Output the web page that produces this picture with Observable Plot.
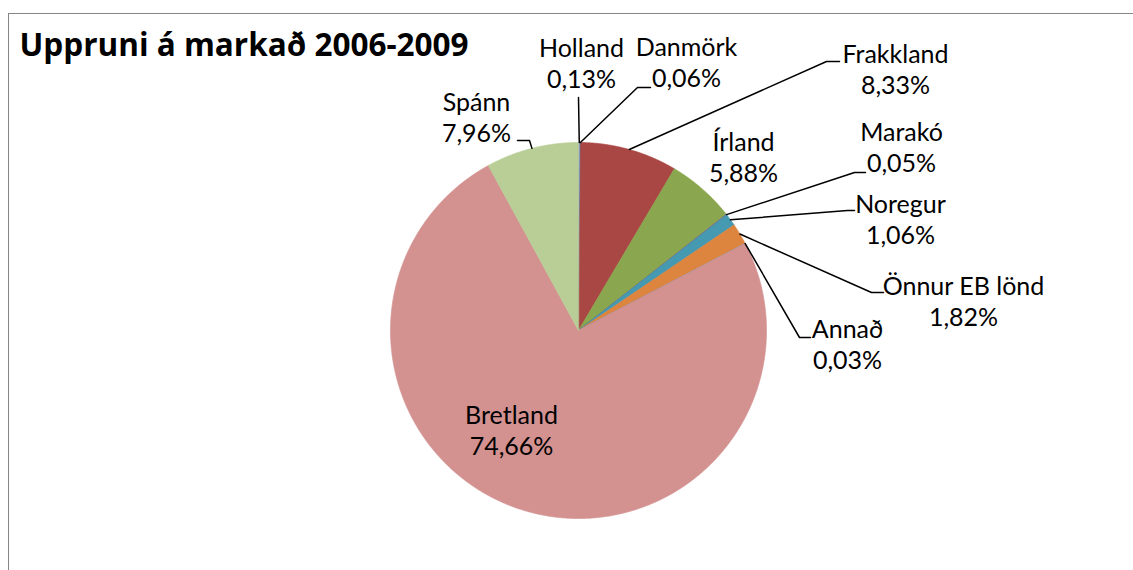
<!DOCTYPE html>
<html><head><meta charset="utf-8">
<script src="https://cdn.jsdelivr.net/npm/d3@7"></script>
<script src="https://cdn.jsdelivr.net/npm/@observablehq/plot@0.6"></script>
<style>
html,body{margin:0;padding:0;background:#fff;overflow:hidden;}
#wrap{position:relative;width:1133px;height:570px;}
#frame{position:absolute;left:8px;top:13px;width:1200px;height:600px;border-left:1.5px solid #868686;border-top:1.5px solid #868686;box-sizing:border-box;pointer-events:none;}
#chart{position:absolute;left:0;top:0;}
</style></head><body>
<div id="wrap"><div id="chart"></div><div id="frame"></div></div>
<script>
// ---- data ----
const title = "Uppruni á markað 2006-2009";
const countries = ["Holland","Danmörk","Frakkland","Írland","Marakó","Noregur","Önnur EB lönd","Annað","Bretland","Spánn"];
const shares = [0.13, 0.06, 8.33, 5.88, 0.05, 1.06, 1.82, 0.03, 74.66, 7.96];
const colors = ["#9896c6","#4573a7","#a94745","#8aa64e","#71588f","#4599b1","#dd843f","#839dbd","#d39190","#b9ce97"];

// ---- layout (pixels) ----
const W = 1133, H = 570;
const cx = 578, cy = 330, R = 188;
const labelLayout = {
  "Holland":       {lx: 581, ly: 62.5, leg: [[578, 97]]},
  "Danmörk":       {lx: 686, ly: 61.5, leg: [[637, 87], [650, 87]]},
  "Frakkland":     {lx: 895, ly: 68.5, leg: [[826, 61], [839, 61]]},
  "Írland":        {lx: 743, ly: 156},
  "Marakó":        {lx: 901, ly: 146, leg: [[854, 172], [865, 172]]},
  "Noregur":       {lx: 900, ly: 218, leg: [[847, 210], [854, 210]]},
  "Önnur EB lönd": {lx: 963, ly: 300.5, leg: [[871, 292], [883, 292]]},
  "Annað":         {lx: 847, ly: 343, leg: [[799, 337], [810, 337]]},
  "Bretland":      {lx: 511, ly: 429},
  "Spánn":         {lx: 476, ly: 116, leg: [[529, 140], [517, 140]]}
};

const rows = countries.map((name, i) => ({name, value: shares[i], pct: shares[i].toFixed(2).replace(".", ",") + "%"}));
const arcs = d3.pie().sort(null).value(d => d.value)(rows);

const px = a => cx + R * Math.sin(a);
const py = a => cy - R * Math.cos(a);

// slice polygons
const slicePts = [];
for (const a of arcs) {
  const n = Math.max(2, Math.ceil((a.endAngle - a.startAngle) / 0.004));
  slicePts.push({name: a.data.name, x: cx, y: cy});
  for (let k = 0; k <= n; k++) {
    const t = a.startAngle + (a.endAngle - a.startAngle) * k / n;
    slicePts.push({name: a.data.name, x: px(t), y: py(t)});
  }
}

// leader lines
const leaderPts = [];
for (const a of arcs) {
  const L = labelLayout[a.data.name];
  if (!L.leg) continue;
  const m = (a.startAngle + a.endAngle) / 2;
  leaderPts.push({name: a.data.name, x: px(m), y: py(m)});
  for (const [x, y] of L.leg) leaderPts.push({name: a.data.name, x, y});
}

const labels = rows.map(d => ({...d, x: labelLayout[d.name].lx, y: labelLayout[d.name].ly}));

const fs = 25;
const chart = Plot.plot({
  width: W, height: H, margin: 0,
  x: {domain: [0, W], range: [0, W], axis: null},
  y: {domain: [0, H], range: [0, H], axis: null},
  color: {domain: countries, range: colors},
  style: {fontFamily: "Lato, 'Open Sans', sans-serif", background: "transparent", overflow: "visible"},
  marks: [
    Plot.line(slicePts, {x: "x", y: "y", z: "name", fill: "name", stroke: "name", strokeWidth: 0.7, curve: "linear-closed"}),
    Plot.line(leaderPts, {x: "x", y: "y", z: "name", stroke: "black", strokeWidth: 1.5}),
    Plot.text(labels, {x: "x", y: "y", text: d => d.name + "\n" + d.pct, fontSize: fs, lineHeight: 31 / fs, lineAnchor: "middle", textAnchor: "middle", fill: "black"}),
    Plot.text([title], {frameAnchor: "top-left", dx: 19, dy: 45, text: d => d, lineAnchor: "middle", textAnchor: "start", fontSize: 31.5, fontWeight: "bold", fill: "black", fontFamily: "'Open Sans', Lato, sans-serif"})
  ]
});
document.getElementById("chart").appendChild(chart);
</script>
</body></html>
